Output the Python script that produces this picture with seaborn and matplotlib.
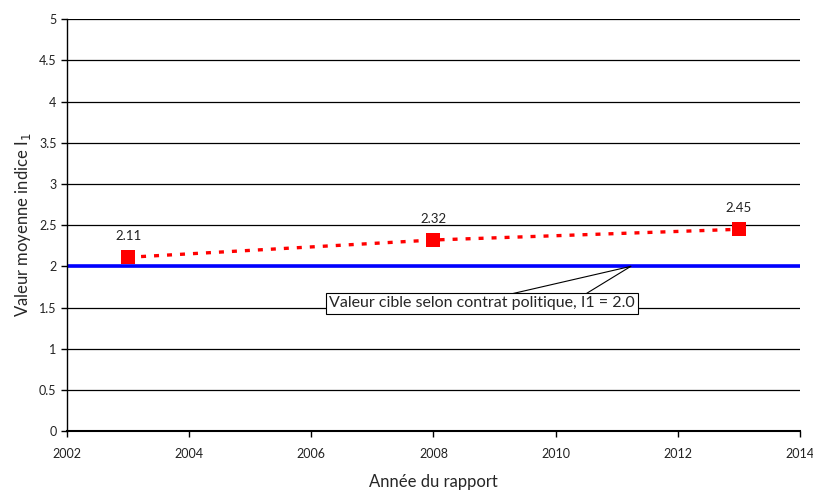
import matplotlib
matplotlib.use("Agg")
import matplotlib.pyplot as plt
import seaborn as sns
import pandas as pd

# Data
years = [2003, 2008, 2013]
values = [2.11, 2.32, 2.45]
target = 2.0
target_label = "Valeur cible selon contrat politique, I1 = 2.0"

sns.set_style("white")
plt.rcParams['font.family'] = ['Lato', 'DejaVu Sans']

df = pd.DataFrame({"annee": years, "valeur": values})

fig, ax = plt.subplots(figsize=(8.13, 4.9), dpi=100)
fig.subplots_adjust(left=0.0824, right=0.984, top=0.961, bottom=0.12)

for y in [0.5, 1, 1.5, 2, 2.5, 3, 3.5, 4, 4.5, 5]:
    ax.axhline(y, color="black", lw=0.9, zorder=1)

ax.axhline(target, color="#0000ff", lw=2.6, zorder=2)

sns.lineplot(data=df, x="annee", y="valeur", ax=ax, color="red", lw=2.4,
             dashes=(1.5, 2.4), zorder=3)
sns.scatterplot(data=df, x="annee", y="valeur", ax=ax, color="red", marker="s",
                s=110, edgecolor="red", linewidth=0, zorder=4)

for x, v in zip(years, values):
    ax.annotate("{:.2f}".format(v), (x, v), xytext=(0, 15), textcoords="offset points",
                ha="center", va="center", fontsize=9.5, color="#222222")

# callout box + wedge lines pointing at the target line
tip_x = 2011.23
for leg_x in [2009.24, 2010.48]:
    ax.plot([tip_x, leg_x], [target, 1.66], color="black", lw=0.8, zorder=4)
ax.text(2008.8, 1.55, target_label, ha="center", va="center", fontsize=11.5,
        bbox=dict(boxstyle="square,pad=0.2", fc="white", ec="black", lw=0.8),
        zorder=5)

ax.set_xlim(2002, 2014)
ax.set_ylim(0, 5)
ax.set_xticks(range(2002, 2015, 2))
ax.set_yticks([0, 0.5, 1, 1.5, 2, 2.5, 3, 3.5, 4, 4.5, 5])
ax.set_yticklabels(["0", "0.5", "1", "1.5", "2", "2.5", "3", "3.5", "4", "4.5", "5"])

for s in ["top", "right"]:
    ax.spines[s].set_visible(False)
ax.spines["left"].set_color("black")
ax.spines["bottom"].set_color("black")
ax.spines["left"].set_linewidth(1)
ax.spines["bottom"].set_linewidth(1.5)

ax.tick_params(axis="both", direction="out", length=4, width=1, color="black",
               labelsize=9, labelcolor="#222222", left=True, bottom=True)
ax.tick_params(axis="x", pad=8)

ax.set_xlabel("Année du rapport", fontsize=12, labelpad=10)
ax.set_ylabel("Valeur moyenne indice I$_1$", fontsize=12)

fig.savefig("out.png", dpi=100)
